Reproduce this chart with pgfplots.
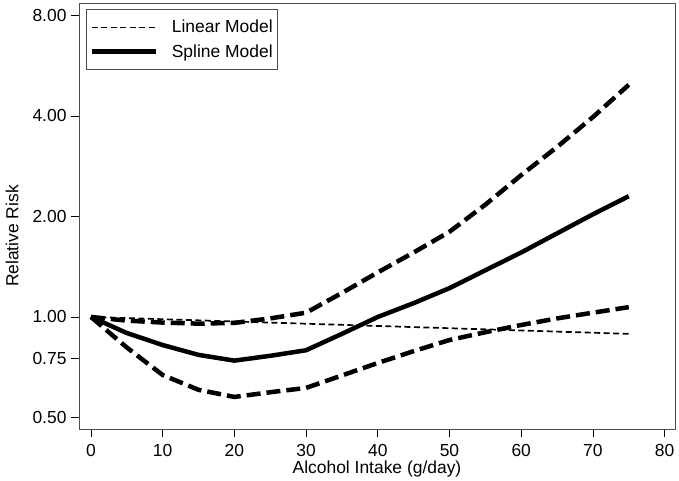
\documentclass[border=0pt]{standalone}
\usepackage{pgfplots}
\pgfplotsset{compat=1.18}
\usepackage{fontspec}
\setmainfont{Liberation Sans}
\begin{document}
\begin{tikzpicture}[font=\fontsize{17.5}{21}\selectfont]
\path[use as bounding box] (-79bp,-52bp) rectangle (600bp,429bp);
\begin{axis}[
  at={(0,0)}, anchor=south west,
  scale only axis, width=596bp, height=426bp,
  ymode=log, log basis y=2,
  xmin=-1.67, xmax=81.45, ymin=0.4617, ymax=8.72,
  xtick={0,10,...,80},
  ytick={0.5,0.75,1,2,4,8},
  yticklabels={0.50,0.75,1.00,2.00,4.00,8.00},
  /pgf/number format/assume math mode=true,
  tick align=outside, tick pos=left,
  major tick length=8bp,
  tick style={black, line width=0.8bp},
  axis line style={black!70, line width=0.8bp},
  xticklabel style={yshift=-4bp},
  yticklabel style={xshift=-1bp},
  xlabel={Alcohol Intake (g/day)},
  ylabel={Relative Risk},
  xlabel style={at={(axis description cs:0.5,0)}, anchor=north, yshift=-28bp},
  ylabel style={at={(axis description cs:0,0.453)}, anchor=south, yshift=57bp},
  legend style={at={(axis description cs:0.0117,0.986)}, anchor=north west,
    draw=black!70, line width=0.8bp, inner xsep=3bp, inner ysep=9bp,
    row sep=6bp, font=\fontsize{17.5}{21}\selectfont},
  legend cell align=left,
  legend image code/.code={\draw[#1] (0bp,0bp) -- (64bp,0bp); \path (76bp,0bp);},
]
\addplot[black, line width=1.7bp, dash pattern=on 6bp off 3.5bp] coordinates {
(0,1.0) (75,0.89)};
\addlegendentry{Linear Model}
\addplot[black, line width=4.5bp, line join=round] coordinates {
(0,1.00) (5,0.895) (10,0.824) (15,0.77) (20,0.74) (25,0.765) (30,0.795)
(35,0.89) (40,1.0) (45,1.10) (50,1.22) (55,1.38) (60,1.56) (65,1.78) (70,2.03) (75,2.30)};
\addlegendentry{Spline Model}
\addplot[black, line width=4.5bp, dash pattern=on 14bp off 6bp] coordinates {
(0,1.0) (5,0.975) (10,0.962) (15,0.955) (20,0.96) (25,0.99) (30,1.03) (35,1.18)
(40,1.36) (45,1.56) (50,1.80) (55,2.17) (60,2.66) (65,3.23) (70,3.97) (75,4.96)};
\addplot[black, line width=4.5bp, dash pattern=on 14bp off 6bp] coordinates {
(0,1.0) (5,0.81) (10,0.67) (15,0.605) (20,0.576) (25,0.595) (30,0.613) (35,0.668)
(40,0.728) (45,0.79) (50,0.853) (55,0.90) (60,0.946) (65,0.99) (70,1.03) (75,1.07)};
\end{axis}
\end{tikzpicture}
\end{document}
